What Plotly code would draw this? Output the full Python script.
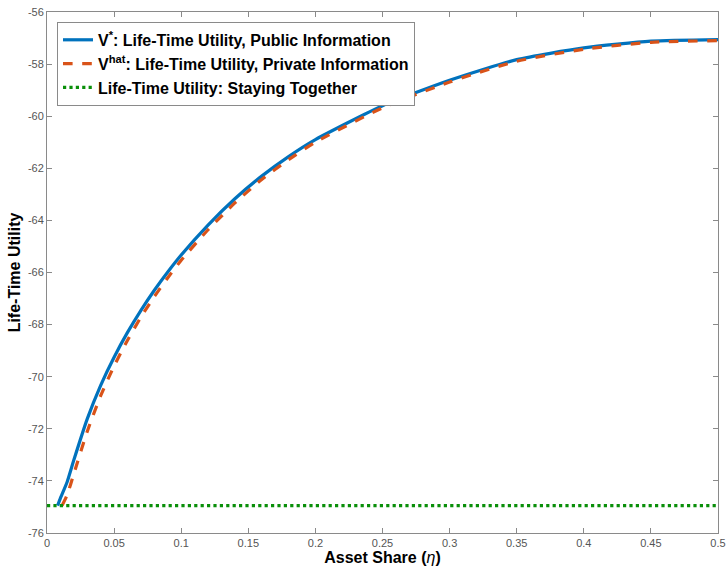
import plotly.graph_objects as go

eta_pub = [0.0079, 0.01, 0.015, 0.02, 0.03, 0.04, 0.05, 0.06, 0.07, 0.08, 0.09, 0.10,
           0.12, 0.14, 0.16, 0.18, 0.20, 0.25, 0.30, 0.35, 0.40, 0.45, 0.50]
v_pub = [-74.95, -74.66, -74.04, -73.2, -71.62, -70.33, -69.25, -68.3, -67.45, -66.68,
         -65.98, -65.33, -64.18, -63.17, -62.3, -61.55, -60.9, -59.6, -58.62, -57.83,
         -57.38, -57.12, -57.06]

eta_priv = [0.0112, 0.015, 0.02, 0.03, 0.04, 0.05, 0.06, 0.07, 0.08, 0.09, 0.10,
            0.12, 0.14, 0.16, 0.18, 0.20, 0.25, 0.30, 0.35, 0.40, 0.45, 0.50]
v_priv = [-74.95, -74.54, -73.73, -72.1, -70.73, -69.59, -68.6, -67.71, -66.92, -66.2,
          -65.53, -64.36, -63.33, -62.43, -61.67, -61.0, -59.68, -58.69, -57.89,
          -57.43, -57.165, -57.1]

eta_tog = [0.0, 0.5]
v_tog = [-74.95, -74.95]

x_ticks = [0, 0.05, 0.1, 0.15, 0.2, 0.25, 0.3, 0.35, 0.4, 0.45, 0.5]
x_tick_labels = ["0", "0.05", "0.1", "0.15", "0.2", "0.25", "0.3", "0.35", "0.4", "0.45", "0.5"]
y_ticks = [-76, -74, -72, -70, -68, -66, -64, -62, -60, -58, -56]
y_tick_labels = [str(v) for v in y_ticks]

FONT = "Liberation Sans, Arial, Helvetica"

fig = go.Figure()
fig.add_trace(go.Scatter(x=eta_pub, y=v_pub, mode="lines",
                         line=dict(color="#0072BD", width=3.2, shape="spline", smoothing=0.6),
                         name="<b>V<sup>*</sup>: Life-Time Utility, Public Information</b>"))
fig.add_trace(go.Scatter(x=eta_priv, y=v_priv, mode="lines",
                         line=dict(color="#D95319", width=3.2, dash="dash", shape="spline", smoothing=0.6),
                         name="<b>V<sup>hat</sup>: Life-Time Utility, Private Information</b>"))
fig.add_trace(go.Scatter(x=eta_tog, y=v_tog, mode="lines",
                         line=dict(color="#0A8F0A", width=3.2, dash="dot"),
                         name="<b>Life-Time Utility: Staying Together</b>"))

axis_common = dict(showline=True, linecolor="#8a8a8a", linewidth=1, mirror="ticks",
                   ticks="inside", ticklen=5, tickcolor="#8a8a8a", showgrid=False,
                   zeroline=False, automargin=False,
                   tickfont=dict(family=FONT, size=11, color="#555"))

fig.update_layout(
    width=727, height=566,
    margin=dict(l=47, r=9, t=12, b=33, pad=0),
    plot_bgcolor="white", paper_bgcolor="white",
    showlegend=True,
    legend=dict(x=0.0149, y=0.981, xanchor="left", yanchor="top",
                bgcolor="white", bordercolor="#8a8a8a", borderwidth=1,
                font=dict(family=FONT, size=16, color="black"),
                itemwidth=30, tracegroupgap=0),
    xaxis=dict(range=[0, 0.5], tickvals=x_ticks, ticktext=x_tick_labels,
               title=dict(text="<b>Asset Share (</b><i>η</i><b>)</b>", standoff=0,
                          font=dict(family=FONT, size=16, color="black")),
               **axis_common),
    yaxis=dict(range=[-76, -56], tickvals=y_ticks, ticktext=y_tick_labels,
               title=dict(text="<b>Life-Time Utility</b>", standoff=3,
                          font=dict(family=FONT, size=16, color="black")),
               **axis_common),
)

fig.write_html("out.html", config={"displayModeBar": False},
               post_script="document.body.style.margin='0';document.body.style.overflow='hidden';")
